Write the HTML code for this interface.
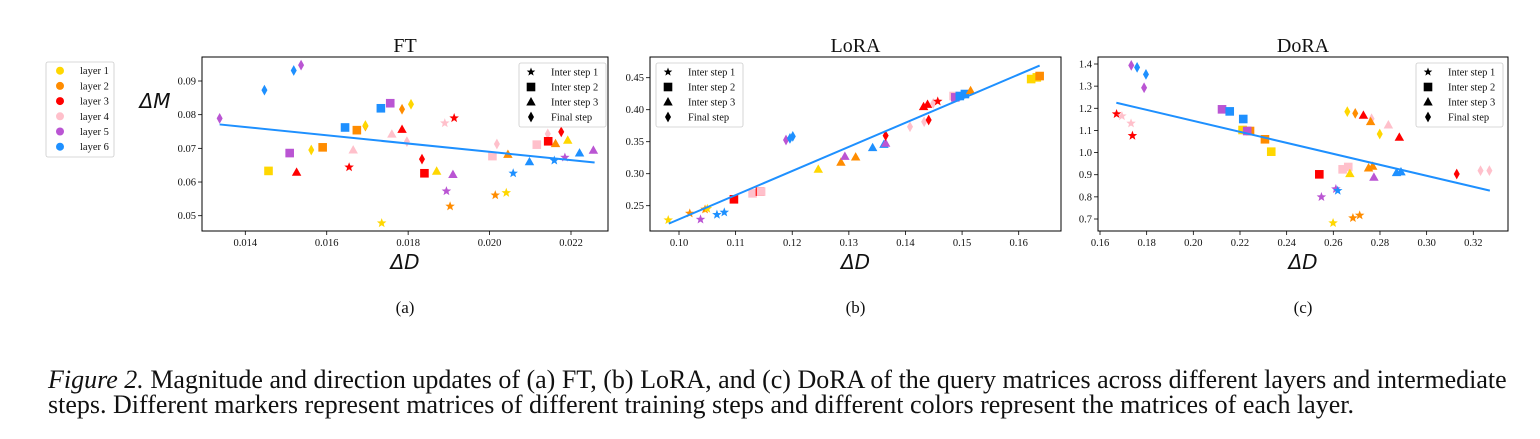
<!DOCTYPE html>
<html><head><meta charset="utf-8"><style>
body{margin:0;background:#fff;width:1540px;height:439px;overflow:hidden;font-family:"Liberation Serif",serif}
svg{position:absolute;left:0;top:0}
.cap{position:absolute;left:48px;font-size:26px;line-height:27px;color:#111;white-space:nowrap}
</style></head><body>
<svg id="chart" width="1540" height="439"></svg>
<div class="cap" style="top:366px"><i>Figure 2.</i> Magnitude and direction updates of (a) FT, (b) LoRA, and (c) DoRA of the query matrices across different layers and intermediate</div>
<div class="cap" style="top:391px">steps. Different markers represent matrices of different training steps and different colors represent the matrices of each layer.</div>
<script>
const layerColors=["#FFD700","#FF8C00","#FF0000","#FFC0CB","#BA55D3","#1E90FF"];
const layerNames=["layer 1","layer 2","layer 3","layer 4","layer 5","layer 6"];
const stepNames=["Inter step 1","Inter step 2","Inter step 3","Final step"];
// points: [dx, dm, layer(1-6), step(0 star,1 square,2 tri,3 diamond)]
const ftPoints=[[0.01337,0.0789,5,3],[0.01447,0.0873,6,3],[0.01519,0.0931,6,3],[0.01537,0.0947,5,3],[0.01457,0.0633,1,1],[0.01509,0.0686,5,1],[0.01526,0.0629,3,2],[0.01562,0.0695,1,3],[0.0159,0.0703,2,1],[0.01655,0.0644,3,0],[0.01645,0.0762,6,1],[0.01665,0.0695,4,2],[0.01674,0.0754,2,1],[0.01695,0.0766,2,3],[0.01695,0.0768,1,3],[0.01733,0.0819,6,1],[0.01735,0.0478,1,0],[0.01756,0.0834,5,1],[0.0176,0.0742,4,2],[0.01785,0.0756,3,2],[0.01785,0.0816,2,3],[0.01797,0.072,4,3],[0.01807,0.0831,1,3],[0.01834,0.0668,3,3],[0.0184,0.0626,3,1],[0.0187,0.0632,1,2],[0.0189,0.0775,4,0],[0.01894,0.0573,5,0],[0.01903,0.0528,2,0],[0.01913,0.079,3,0],[0.0191,0.0622,5,2],[0.02007,0.0677,4,1],[0.02018,0.0713,4,3],[0.02014,0.0561,2,0],[0.02041,0.0568,1,0],[0.02045,0.0682,2,2],[0.02058,0.0626,6,0],[0.02098,0.066,6,2],[0.02116,0.0711,4,1],[0.02143,0.0743,4,3],[0.02144,0.0721,3,1],[0.02162,0.0714,2,2],[0.02159,0.0664,6,0],[0.02176,0.0749,3,3],[0.02192,0.0724,1,2],[0.02185,0.0673,5,0],[0.02221,0.0686,6,2],[0.02255,0.0694,5,2]];
const ftFit=[[0.01337,0.0771],[0.02258,0.0658]];
const loraPoints=[[0.0981,0.2276,1,0],[0.1019,0.238,2,0],[0.1038,0.2286,5,0],[0.1046,0.2443,2,0],[0.105,0.2453,1,0],[0.1067,0.236,6,0],[0.108,0.2396,6,0],[0.1097,0.26,3,1],[0.113,0.2693,4,1],[0.1143,0.272,3,1],[0.1145,0.272,4,1],[0.1189,0.3526,5,3],[0.1196,0.3552,6,3],[0.1201,0.3583,6,3],[0.1246,0.3068,1,2],[0.1286,0.3177,2,2],[0.1293,0.327,5,2],[0.1312,0.326,2,2],[0.1342,0.3406,6,2],[0.1362,0.3458,6,2],[0.1365,0.3474,5,2],[0.1365,0.3594,3,3],[0.1408,0.3734,4,3],[0.1433,0.3812,4,3],[0.1441,0.3839,3,3],[0.1432,0.4047,3,2],[0.1439,0.4083,3,2],[0.1449,0.4099,4,3],[0.1457,0.413,3,0],[0.1485,0.4214,4,1],[0.1488,0.4193,5,1],[0.1496,0.4214,6,1],[0.1505,0.4245,6,1],[0.1515,0.4297,2,2],[0.1622,0.4479,1,1],[0.1632,0.4505,1,1],[0.1637,0.4526,2,1]];
const loraFit=[[0.0982,0.222],[0.1637,0.469]];
const doraPoints=[[0.1671,1.1742,3,0],[0.1694,1.165,4,0],[0.1733,1.132,4,0],[0.1739,1.0763,3,0],[0.1734,1.394,5,3],[0.1759,1.385,6,3],[0.1797,1.353,6,3],[0.1789,1.293,5,3],[0.2123,1.1953,5,1],[0.2156,1.186,6,1],[0.2214,1.1516,6,1],[0.2211,1.102,1,1],[0.2243,1.0974,2,1],[0.2231,1.0974,5,1],[0.2307,1.06,2,1],[0.2334,1.004,1,1],[0.254,0.9017,3,1],[0.2549,0.7994,5,0],[0.2611,0.8355,5,0],[0.2619,0.828,6,0],[0.2599,0.682,1,0],[0.2684,0.7045,2,0],[0.2713,0.7166,2,0],[0.264,0.9243,4,1],[0.2664,0.9349,4,1],[0.2671,0.9047,1,2],[0.266,1.1847,1,3],[0.2694,1.1772,2,3],[0.2729,1.168,3,2],[0.2764,1.153,4,3],[0.276,1.1396,2,2],[0.2751,0.9303,2,2],[0.2769,0.9378,2,2],[0.2774,0.8882,5,2],[0.2799,1.0839,1,3],[0.2836,1.1245,4,2],[0.2871,0.9093,6,2],[0.289,0.9123,6,2],[0.2883,1.0688,3,2],[0.3129,0.9032,3,3],[0.3231,0.9183,4,3],[0.3269,0.9183,4,3]];
const doraFit=[[0.167,1.225],[0.3271,0.828]];
const ftXTicks=["0.014","0.016","0.018","0.020","0.022"];
const ftYTicks=["0.05","0.06","0.07","0.08","0.09"];
const loraXTicks=["0.10","0.11","0.12","0.13","0.14","0.15","0.16"];
const loraYTicks=["0.25","0.30","0.35","0.40","0.45"];
const doraXTicks=["0.16","0.18","0.20","0.22","0.24","0.26","0.28","0.30","0.32"];
const doraYTicks=["0.7","0.8","0.9","1.0","1.1","1.2","1.3","1.4"];

const NS="http://www.w3.org/2000/svg";
const svg=document.getElementById('chart');
function mk(tag,attrs,parent){const e=document.createElementNS(NS,tag);for(const k in attrs)e.setAttribute(k,attrs[k]);(parent||svg).appendChild(e);return e;}
function txt(x,y,s,size,anchor,parent,extra){const t=mk('text',Object.assign({x:x,y:y,'font-size':size,'text-anchor':anchor||'middle','font-family':'Liberation Serif, serif',fill:'#111'},extra||{}),parent);t.textContent=s;return t;}
function marker(g,step,cx,cy,color,s){
  let e;
  if(step===1){e=mk('rect',{x:cx-s,y:cy-s,width:2*s,height:2*s,fill:color},g);}
  else if(step===2){e=mk('polygon',{points:`${cx},${cy-s*1.15} ${cx+s*1.1},${cy+s*0.8} ${cx-s*1.1},${cy+s*0.8}`,fill:color},g);}
  else if(step===3){e=mk('polygon',{points:`${cx},${cy-s*1.25} ${cx+s*0.7},${cy} ${cx},${cy+s*1.25} ${cx-s*0.7},${cy}`,fill:color},g);}
  else{let p=[];for(let i=0;i<10;i++){const r=i%2?s*0.42:s;const a=-Math.PI/2+i*Math.PI/5;p.push((cx+r*Math.cos(a)).toFixed(2)+','+(cy+r*Math.sin(a)).toFixed(2));}e=mk('polygon',{points:p.join(' '),fill:color},g);}
  return e;
}
function panel(o){
  const g=mk('g',{});
  
  
  const X=v=>o.px0+(v-o.x0)*(o.px1-o.px0)/(o.x1-o.x0);
  const Y=v=>o.py0+(v-o.y0)*(o.py1-o.py0)/(o.y1-o.y0);
  o.xt.forEach(t=>{const x=X(parseFloat(t));mk('line',{x1:x,y1:o.bottom,x2:x,y2:o.bottom+4,stroke:'#000','stroke-width':0.8},g);const tt=txt(x,o.bottom+15,t,10.5,'middle',g);});
  o.yt.forEach(t=>{const y=Y(parseFloat(t));mk('line',{x1:o.left-4,y1:y,x2:o.left,y2:y,stroke:'#000','stroke-width':0.8},g);const tt=txt(o.left-6,y+3.5,t,10.5,'end',g);});
  const pts=mk('g',{},g);
  
  
  o.pts.forEach(p=>{const m=marker(pts,p[3],X(p[0]),Y(p[1]),layerColors[p[2]-1],p[3]===0?5:4.3);
    
    });
  const fl=mk('line',{x1:X(o.fit[0][0]),y1:Y(o.fit[0][1]),x2:X(o.fit[1][0]),y2:Y(o.fit[1][1]),stroke:'#1E90FF','stroke-width':2},g);
  
  
  const box=mk('rect',{x:o.left,y:o.top,width:o.right-o.left,height:o.bottom-o.top,fill:'none',stroke:'#000','stroke-width':1},g);
  
  
  const ti=txt((o.left+o.right)/2,o.top-5,o.title,20,'middle',g);
  
  
  const xl=txt((o.left+o.right)/2,o.bottom+38,'ΔD',20,'middle',g,{'font-family':'DejaVu Sans, sans-serif','font-style':'italic'});
  
  
  const sl=txt((o.left+o.right)/2,313,o.sub,17,'middle',g);
  
  
  const lg=mk('g',{},g);
  
  
  mk('rect',{x:o.lx,y:63,width:87,height:64,rx:2,fill:'#fff',stroke:'#ccc','stroke-width':0.8},lg);
  stepNames.forEach((s,i)=>{const y=72+i*15;marker(lg,i,o.lx+12,y,'#000',i===0?4.5:4.3);const e=txt(o.lx+32,y+3.5,s,10.5,'start',lg);});
}
panel({name:'ft',title:'FT',sub:'(a)',left:202,right:608,top:57,bottom:231,px0:245.3,px1:571,x0:0.014,x1:0.022,py0:81,py1:215.7,y0:0.09,y1:0.05,xt:ftXTicks,yt:ftYTicks,pts:ftPoints,fit:ftFit,lx:519});
panel({name:'lora',title:'LoRA',sub:'(b)',left:650,right:1061,top:57,bottom:231,px0:679,px1:1018.7,x0:0.10,x1:0.16,py0:77.7,py1:205.7,y0:0.45,y1:0.25,xt:loraXTicks,yt:loraYTicks,pts:loraPoints,fit:loraFit,lx:656});
panel({name:'dora',title:'DoRA',sub:'(c)',left:1098,right:1508,top:57,bottom:231,px0:1100,px1:1473.3,x0:0.16,x1:0.32,py0:64,py1:219,y0:1.4,y1:0.7,xt:doraXTicks,yt:doraYTicks,pts:doraPoints,fit:doraFit,lx:1416});
const yl=txt(155,108,'ΔM',20,'middle',svg,{'font-family':'DejaVu Sans, sans-serif','font-style':'italic'});


const L=mk('g',{});


mk('rect',{x:46,y:62,width:68,height:95,rx:2,fill:'#fff',stroke:'#ccc','stroke-width':0.8},L);
layerNames.forEach((n,i)=>{const y=70.7+i*15.2;mk('circle',{cx:60,cy:y,r:4,fill:layerColors[i]},L);const e=txt(80,y+3.5,n,10.5,'start',L);});
</script>
</body></html>
